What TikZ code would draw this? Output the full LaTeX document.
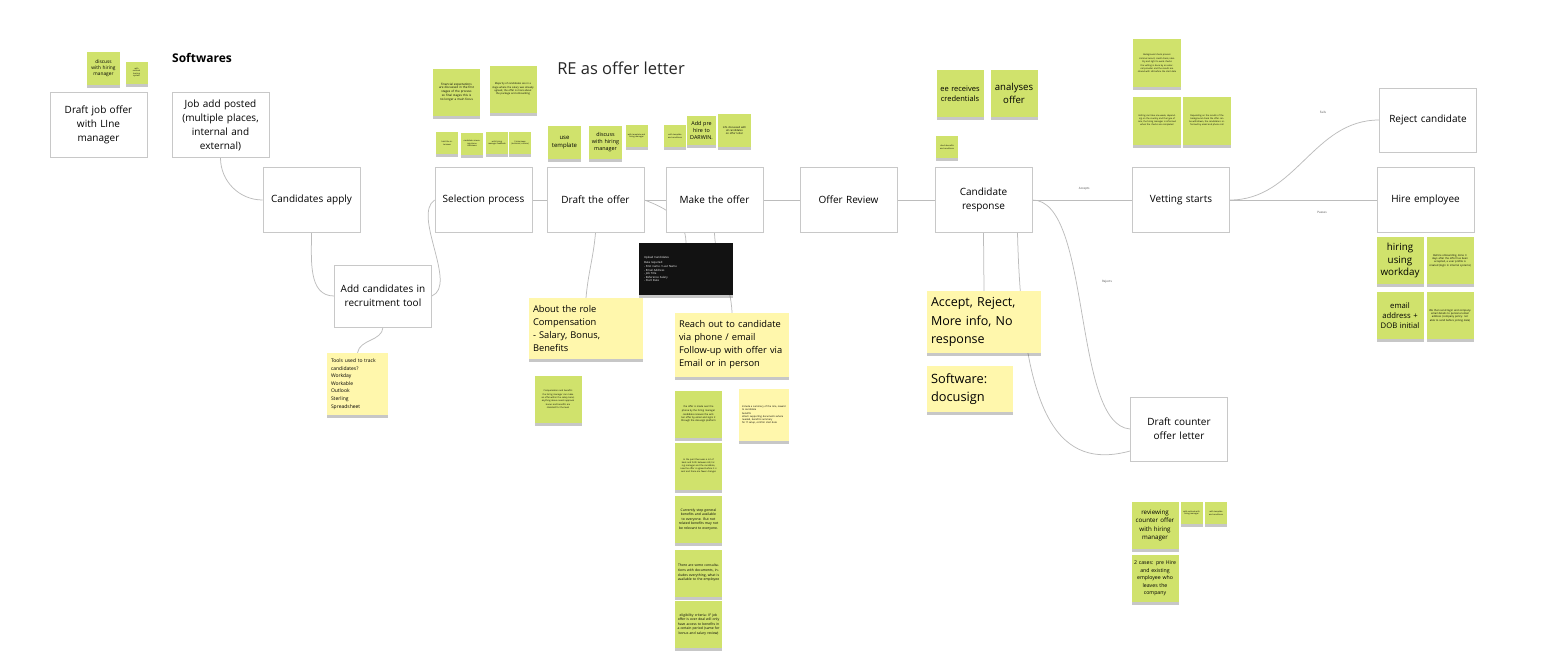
\documentclass[tikz,border=0pt]{standalone}
\usepackage{fontspec}
\setmainfont{Open Sans}
\usetikzlibrary{shadows,backgrounds}
\definecolor{stkgreen}{RGB}{208,226,108}
\definecolor{stkyellow}{RGB}{255,247,172}
\definecolor{boxgray}{RGB}{200,200,200}
\definecolor{linkgray}{RGB}{188,188,188}
\definecolor{boardblack}{RGB}{18,18,18}

\begin{document}
\begin{tikzpicture}[x=1pt,y=-1pt,
  every node/.style={font=\fontsize{10}{14}\selectfont},
  stepbox/.style={draw=boxgray,fill=white,line width=0.8pt,minimum width=97pt,minimum height=65pt,text width=90pt,align=center,inner sep=2pt},
  gstk/.style={fill=stkgreen,align=center,inner sep=1.5pt,drop shadow={shadow xshift=0pt,shadow yshift=-3pt,opacity=0.22,fill=black},font=\fontsize{2.6}{3.3}\selectfont},
  stkL/.style={gstk,minimum size=47pt,text width=42pt},
  stkM/.style={gstk,minimum size=33pt,text width=29pt},
  stkS/.style={gstk,minimum size=22pt,text width=18pt,font=\fontsize{2}{2.6}\selectfont},
  ynote/.style={fill=stkyellow,align=left,inner sep=4pt,drop shadow={shadow xshift=0pt,shadow yshift=-3pt,opacity=0.22,fill=black}},
  link/.style={draw=linkgray,line width=0.75pt},
  lbl/.style={font=\fontsize{3}{3.6}\selectfont,text=black!70}]
\useasboundingbox (0,0) rectangle (1542,664);

% titles
\node[font=\bfseries\fontsize{12}{14}\selectfont] (softw) at (202,58) {Softwares};
\node[font=\fontsize{16.5}{19}\selectfont,text=black!85] (retitle) at (621,68) {RE as offer letter};

% main flow boxes
\node[stepbox] (jobdraft) at (98.5,125) {Draft job offer\\with LIne\\manager};
\node[stepbox] (jobad) at (220.5,125) {Job add posted\\(multiple places,\\internal and\\external)};
\node[stepbox] (apply) at (311.5,200) {Candidates apply};
\node[stepbox,minimum height=62pt] (addcand) at (383,296) {Add candidates in\\recruitment tool};
\node[stepbox] (selection) at (483.5,200) {Selection process};
\node[stepbox] (draft) at (595.5,200) {Draft the offer};
\node[stepbox] (make) at (714.5,200) {Make the offer};
\node[stepbox] (review) at (848.5,200) {Offer Review};
\node[stepbox] (cand) at (983.5,200) {Candidate\\response};
\node[stepbox] (vet) at (1181,200) {Vetting starts};
\node[stepbox,minimum height=64pt] (reject) at (1428,120) {Reject candidate};
\node[stepbox] (hire) at (1425.5,200) {Hire employee};
\node[stepbox,minimum height=64pt] (counter) at (1179,429) {Draft counter\\offer letter};

% yellow notes
\node[ynote,minimum width=61pt,minimum height=62pt,text width=53pt,font=\fontsize{5}{7.6}\selectfont] (tools) at (357.5,384) {Tools used to track\\candidates?\\Workday\\Workable\\Outlook\\Sterling\\Spreadsheet};
\node[ynote,minimum width=114pt,minimum height=61pt,text width=106pt,font=\fontsize{9.3}{13}\selectfont] (about) at (586,328.5) {About the role\\Compensation\\- Salary, Bonus,\\Benefits};
\node[ynote,minimum width=114pt,minimum height=64pt,text width=106pt,font=\fontsize{9.3}{13}\selectfont] (reach) at (732,345) {Reach out to candidate\\via phone / email\\Follow-up with offer via\\Email or in person};
\node[ynote,minimum width=114pt,minimum height=62pt,text width=106pt,font=\fontsize{12.5}{18.5}\selectfont] (accept) at (984,322) {Accept, Reject,\\More info, No\\response};
\node[ynote,minimum width=86pt,minimum height=46pt,text width=78pt,font=\fontsize{12.8}{18.5}\selectfont] (docu) at (970,389) {Software:\\docusign};
\node[ynote,minimum width=50pt,minimum height=52pt,text width=44pt,inner sep=3pt,font=\fontsize{2.4}{3.1}\selectfont] (ynote1) at (764,415) {Include a summary of the role, reward to candidate\\benefits\\attach supporting documents where needed, benefits summary\\for IT setup, confirm start date};

% upload board
\node[fill=boardblack,text=white,minimum width=94pt,minimum height=52pt,text width=84pt,align=left,font=\fontsize{2.8}{3.6}\selectfont,drop shadow={shadow xshift=0pt,shadow yshift=-3pt,opacity=0.22,fill=black}] (upload) at (686,269) {Upload Candidates\\[2pt]Data required:\\- First name / Last Name\\- Email Address\\- Job Title\\- Reference Salary\\- Start Date};

% connectors
\begin{scope}[on background layer]
\draw[link] (jobad.south) to[out=-90,in=180] (apply.west);
\draw[link] (apply.south) to[out=-90,in=180] (addcand.west);
\draw[link] (addcand.east) .. controls (458,285) and (412,215) .. (selection.west);
\draw[link] (addcand.south) to[out=-95,in=80] (tools.north);
\draw[link] (selection.east) -- (draft.west);
\draw[link] (draft.east) -- (make.west);
\draw[link] (draft.east) to[out=-20,in=90] (upload.north);
\draw[link] (draft.south) to[out=-95,in=85] (about.north);
\draw[link] (make.south) to[out=-88,in=92] (reach.north);
\draw[link] (make.east) -- (review.west);
\draw[link] (review.east) -- (cand.west);
\draw[link] (cand.south) -- (accept.north);
\draw[link] (cand.east) -- node[lbl,above=6pt,pos=0.52] (lacc) {Accepts} (vet.west);
\draw[link] (cand.east) .. controls (1092,200) and (1072,425) .. (counter.west);
\draw[link] ([xshift=34pt]cand.south) .. controls (1022,420) and (1060,470) .. ([yshift=-22pt]counter.west);
\draw[link] (vet.east) to[out=0,in=180] (reject.west);
\draw[link] (vet.east) -- (hire.west);
\end{scope}
\node[lbl] (lrej) at (1107,282) {Rejects};
\node[lbl] (lfail) at (1323,112) {Fails};
\node[lbl] (lpass) at (1322,212) {Passes};

% stickies: job offer
\node[stkM,font=\fontsize{4.8}{6}\selectfont] (sdisc) at (103.5,68) {discuss\\with hiring\\manager};
\node[stkS] (sout) at (136.5,72.5) {with\\outlook\\hosting\\system};

% stickies: selection
\node[stkL,font=\fontsize{3}{3.8}\selectfont] (sel1) at (456.5,92) {financial expectations are discussed in the first stages of the process so final stages this is no longer a main focus};
\node[stkL,font=\fontsize{2.5}{3.2}\selectfont] (sel2) at (513,89) {Majority of candidates are in a stage where the salary was already agreed, the offer is more about the package and onboarding};
\node[stkS] (sel3) at (447,143) {hold the interviews};
\node[stkS] (sel4) at (472,143.5) {candidate screening phone interviews};
\node[stkS] (sel5) at (497,143) {with hiring manager feedback};
\node[stkS] (sel6) at (520,143) {3 interviews (technical, culture)};

% stickies: draft and make
\node[stkM,font=\fontsize{6}{8}\selectfont] (tmpl) at (564.5,142.5) {use\\template};
\node[stkM,font=\fontsize{5.4}{7}\selectfont] (ddisc) at (605.5,142.5) {discuss\\with hiring\\manager};
\node[stkS] (dsm) at (636.5,136) {with template and hiring manager};
\node[stkS] (msm) at (675,136) {with template and conditions};
\node[gstk,minimum size=29pt,text width=26pt,font=\fontsize{5.4}{6.8}\selectfont] (darwin) at (701.5,130.5) {Add pre\\hire to\\DARWIN.};
\node[stkM,font=\fontsize{2.6}{3.3}\selectfont] (minfo) at (734.5,130.5) {info discussed with all candidates on offer letter};

% stickies: candidate response
\node[stkL,font=\fontsize{7.5}{10}\selectfont] (creds) at (960,93.5) {ee receives\\credentials};
\node[stkL,font=\fontsize{9.6}{12.5}\selectfont] (analy) at (1014,93.5) {analyses\\offer};
\node[stkS] (csm) at (947,147) {check benefits and conditions};

% stickies: vetting
\node[gstk,minimum size=48pt,text width=43pt,font=\fontsize{2.2}{2.9}\selectfont] (vt1) at (1157,63) {Background check process\\[1pt] criminal record, credit check, identity and right to work checks\\[1pt] the vetting is done by an external provider and the results are shared with HR before the start date};
\node[gstk,minimum size=48pt,text width=43pt,font=\fontsize{2.2}{2.9}\selectfont] (vt2) at (1157,120.5) {Vetting can take one week, depending on the country and the type of role, the hiring manager is informed when the checks are completed};
\node[gstk,minimum size=48pt,text width=43pt,font=\fontsize{2.2}{2.9}\selectfont] (vt3) at (1207,120.5) {Depending on the results of the background check the offer can be withdrawn, the candidate is informed by email and phone call};

% stickies: hire
\node[stkL,font=\fontsize{9.8}{12.5}\selectfont] (workday) at (1400,260.5) {hiring\\using\\workday};
\node[stkL,font=\fontsize{2.6}{3.4}\selectfont] (hr2) at (1450,260.5) {Before onboarding, done 3 days after the offer has been accepted, a user profile is created (login in internal systems)};
\node[stkL,font=\fontsize{7.7}{10}\selectfont] (email) at (1400,315.5) {email\\address +\\DOB initial};
\node[stkL,font=\fontsize{2.6}{3.4}\selectfont] (hr4) at (1450,315.5) {We then send login and company email details to personal email address (company policy: not able to send before joining date)};

% stickies: offer details
\node[stkL,font=\fontsize{2.2}{2.9}\selectfont] (ab1) at (558,399) {Compensation and benefits\\[1pt] the hiring manager can make an offer within the salary band, anything above needs approval\\[1pt] bonus and benefits are standard for the level};
\node[stkL,font=\fontsize{2.4}{3.1}\selectfont] (col1) at (698.5,414) {the offer is made over the phone by the hiring manager\\[1pt] candidate receives the written offer by email and signs it through the docusign platform};
\node[stkL,font=\fontsize{2.2}{2.9}\selectfont] (col2) at (698.5,466) {In the past there was a lot of back and forth between HR, hiring manager and the candidate, now the offer is agreed before it is sent and there are fewer changes};
\node[stkL,font=\fontsize{3.4}{4.6}\selectfont] (col3) at (698.5,519.5) {Currently step general benefits and available to everyone. But not related benefits may not be relevant to everyone.};
\node[stkL,font=\fontsize{3.4}{4.6}\selectfont] (col4) at (698.5,573) {There are some consultations with documents, includes everything, what is available to the employee};
\node[stkL,font=\fontsize{3.4}{4.6}\selectfont] (col5) at (698.5,624.5) {eligibility criteria: IF job offer is over deal will only have access to benefits in a certain period (same for bonus and salary review)};

% stickies: counter offer
\node[stkL,font=\fontsize{6.2}{8.2}\selectfont] (co1) at (1155,525.5) {reviewing\\counter offer\\with hiring\\manager};
\node[stkS] (co2) at (1191.5,513) {with outlook with hiring manager};
\node[stkS] (co3) at (1216,513) {with template and conditions};
\node[stkL,text width=44pt,inner sep=1pt,font=\fontsize{5.2}{7.4}\selectfont] (co4) at (1155,578.5) {2 cases: pre Hire\\and existing\\employee who\\leaves the\\company};
\end{tikzpicture}
\end{document}
